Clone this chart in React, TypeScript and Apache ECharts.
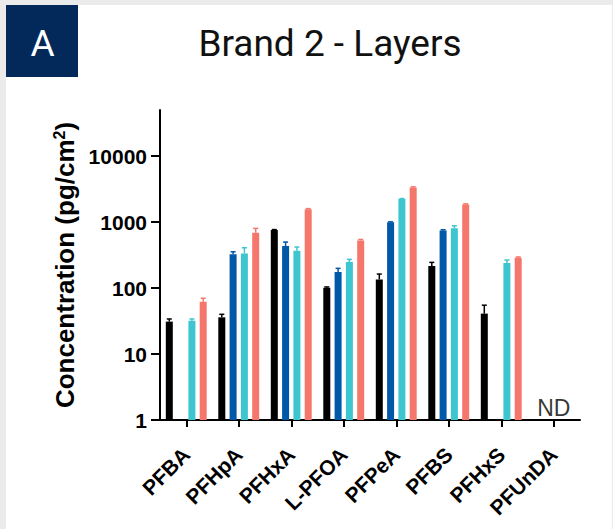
import React, { useEffect, useRef } from 'react';
import * as echarts from 'echarts';

const categories = ['PFBA', 'PFHpA', 'PFHxA', 'L-PFOA', 'PFPeA', 'PFBS', 'PFHxS', 'PFUnDA'];
const yTicks = [1, 10, 100, 1000, 10000];

const layer1 = [31, 36, 760, 101, 135, 215, 41, null];
const layer2 = [null, 324, 433, 175, 990, 748, null, null];
const layer3 = [32, 335, 367, 248, 2230, 803, 239, null];
const layer4 = [62, 690, 1560, 528, 3350, 1855, 288, null];

const layer1Upper = [34, 40, 770, 104, 163, 245, 55, null];
const layer2Upper = [null, 355, 498, 199, 1010, 765, null, null];
const layer3Upper = [34, 408, 418, 272, 2270, 879, 266, null];
const layer4Upper = [70, 803, 1600, 545, 3420, 1890, 296, null];

const ndLabels = [null, null, null, null, null, null, null, 'ND'];

const colors = ['#000000', '#0058a8', '#3ec6d0', '#f5766b'];

const BAR_W = 7;
const GAP = 4.3;
const STEP = BAR_W + GAP;

export default function App() {
  const ref = useRef<HTMLDivElement>(null);

  useEffect(() => {
    if (!ref.current) return;
    const chart = echarts.init(ref.current, undefined, { renderer: 'svg' });

    const values = [layer1, layer2, layer3, layer4];
    const uppers = [layer1Upper, layer2Upper, layer3Upper, layer4Upper];

    const barSeries = values.map((vals, k) => ({
      type: 'bar',
      name: 'Layer ' + (k + 1),
      data: vals.map((v) => (v == null ? '-' : v)),
      barWidth: BAR_W,
      barGap: (GAP / BAR_W) * 100 + '%',
      itemStyle: { color: colors[k] },
      z: 2,
    }));

    const errSeries = values.map((vals, k) => ({
      type: 'custom',
      name: 'Layer ' + (k + 1) + ' error',
      data: vals
        .map((v, i) => (v == null || uppers[k][i] == null ? null : [i, v, uppers[k][i]]))
        .filter((d) => d != null),
      renderItem: (params: any, api: any) => {
        const i = api.value(0);
        const v = api.value(1);
        const u = api.value(2);
        const base = api.coord([i, v]);
        const top = api.coord([i, u]);
        const x = base[0] + (k - 1.5) * STEP;
        return {
          type: 'group',
          children: [
            { type: 'line', shape: { x1: x, y1: base[1], x2: x, y2: top[1] }, style: { stroke: colors[k], lineWidth: 1.5 } },
            { type: 'line', shape: { x1: x - 2.5, y1: top[1], x2: x + 2.5, y2: top[1] }, style: { stroke: colors[k], lineWidth: 1.5 } },
          ],
        };
      },
      z: 1,
    }));

    const ndSeries = {
      type: 'scatter',
      name: 'ND',
      symbolSize: 0,
      data: ndLabels.map((t) => (t == null ? '-' : 1)),
      label: {
        show: true,
        position: 'top',
        distance: 1,
        formatter: (p: any) => ndLabels[p.dataIndex] || '',
        fontFamily: 'Liberation Sans',
        fontSize: 23,
        color: '#000',
      },
      z: 3,
    };

    chart.setOption({
      animation: false,
      backgroundColor: '#ebebeb',
      graphic: [
        { type: 'rect', shape: { x: 6, y: 5, width: 606, height: 524 }, style: { fill: '#ffffff' }, z: -10 },
        { type: 'rect', shape: { x: 6, y: 5, width: 72, height: 72 }, style: { fill: '#03295a' }, z: -9 },
        {
          type: 'text',
          x: 42.5,
          y: 43,
          style: { text: 'A', fill: '#ffffff', font: '37px Roboto', align: 'center', verticalAlign: 'middle' },
        },
        {
          type: 'text',
          x: 330,
          y: 43,
          style: { text: 'Brand 2 - Layers', fill: '#111111', font: '37px Roboto', align: 'center', verticalAlign: 'middle' },
        },
      ],
      grid: { left: 160, right: 33, top: 110, bottom: 109, containLabel: false },
      xAxis: {
        type: 'category',
        data: categories,
        axisLine: { show: true, lineStyle: { color: '#000', width: 2 } },
        axisTick: { show: true, alignWithLabel: true, length: 7, lineStyle: { color: '#000', width: 2 } },
        axisLabel: {
          rotate: 45,
          margin: 31,
          fontFamily: 'Liberation Sans',
          fontWeight: 'bold',
          fontSize: 21,
          color: '#000',
          interval: 0,
        },
      },
      yAxis: {
        type: 'log',
        logBase: 10,
        min: 1,
        max: 50000,
        name: '{a|Concentration (pg/cm}{b|2}{a|)}',
        nameLocation: 'middle',
        nameRotate: 90,
        nameGap: 76,
        nameTextStyle: {
          rich: {
            a: { fontFamily: 'Liberation Sans', fontWeight: 'bold', fontSize: 26, color: '#000' },
            b: { fontFamily: 'Liberation Sans', fontWeight: 'bold', fontSize: 16, color: '#000', verticalAlign: 'top' },
          },
        },
        axisLine: { show: true, lineStyle: { color: '#000', width: 2 } },
        axisTick: { show: true, length: 9, customValues: yTicks, lineStyle: { color: '#000', width: 2 } },
        minorTick: { show: false },
        splitLine: { show: false },
        axisLabel: {
          customValues: yTicks,
          margin: 13,
          formatter: (v: number) => String(Math.round(v)),
          fontFamily: 'Liberation Sans',
          fontWeight: 'bold',
          fontSize: 21,
          color: '#000',
        },
      },
      series: [...barSeries, ...errSeries, ndSeries],
    });

    return () => chart.dispose();
  }, []);

  return <div ref={ref} style={{ position: 'fixed', left: 0, top: 0, width: 613, height: 529 }} />;
}
